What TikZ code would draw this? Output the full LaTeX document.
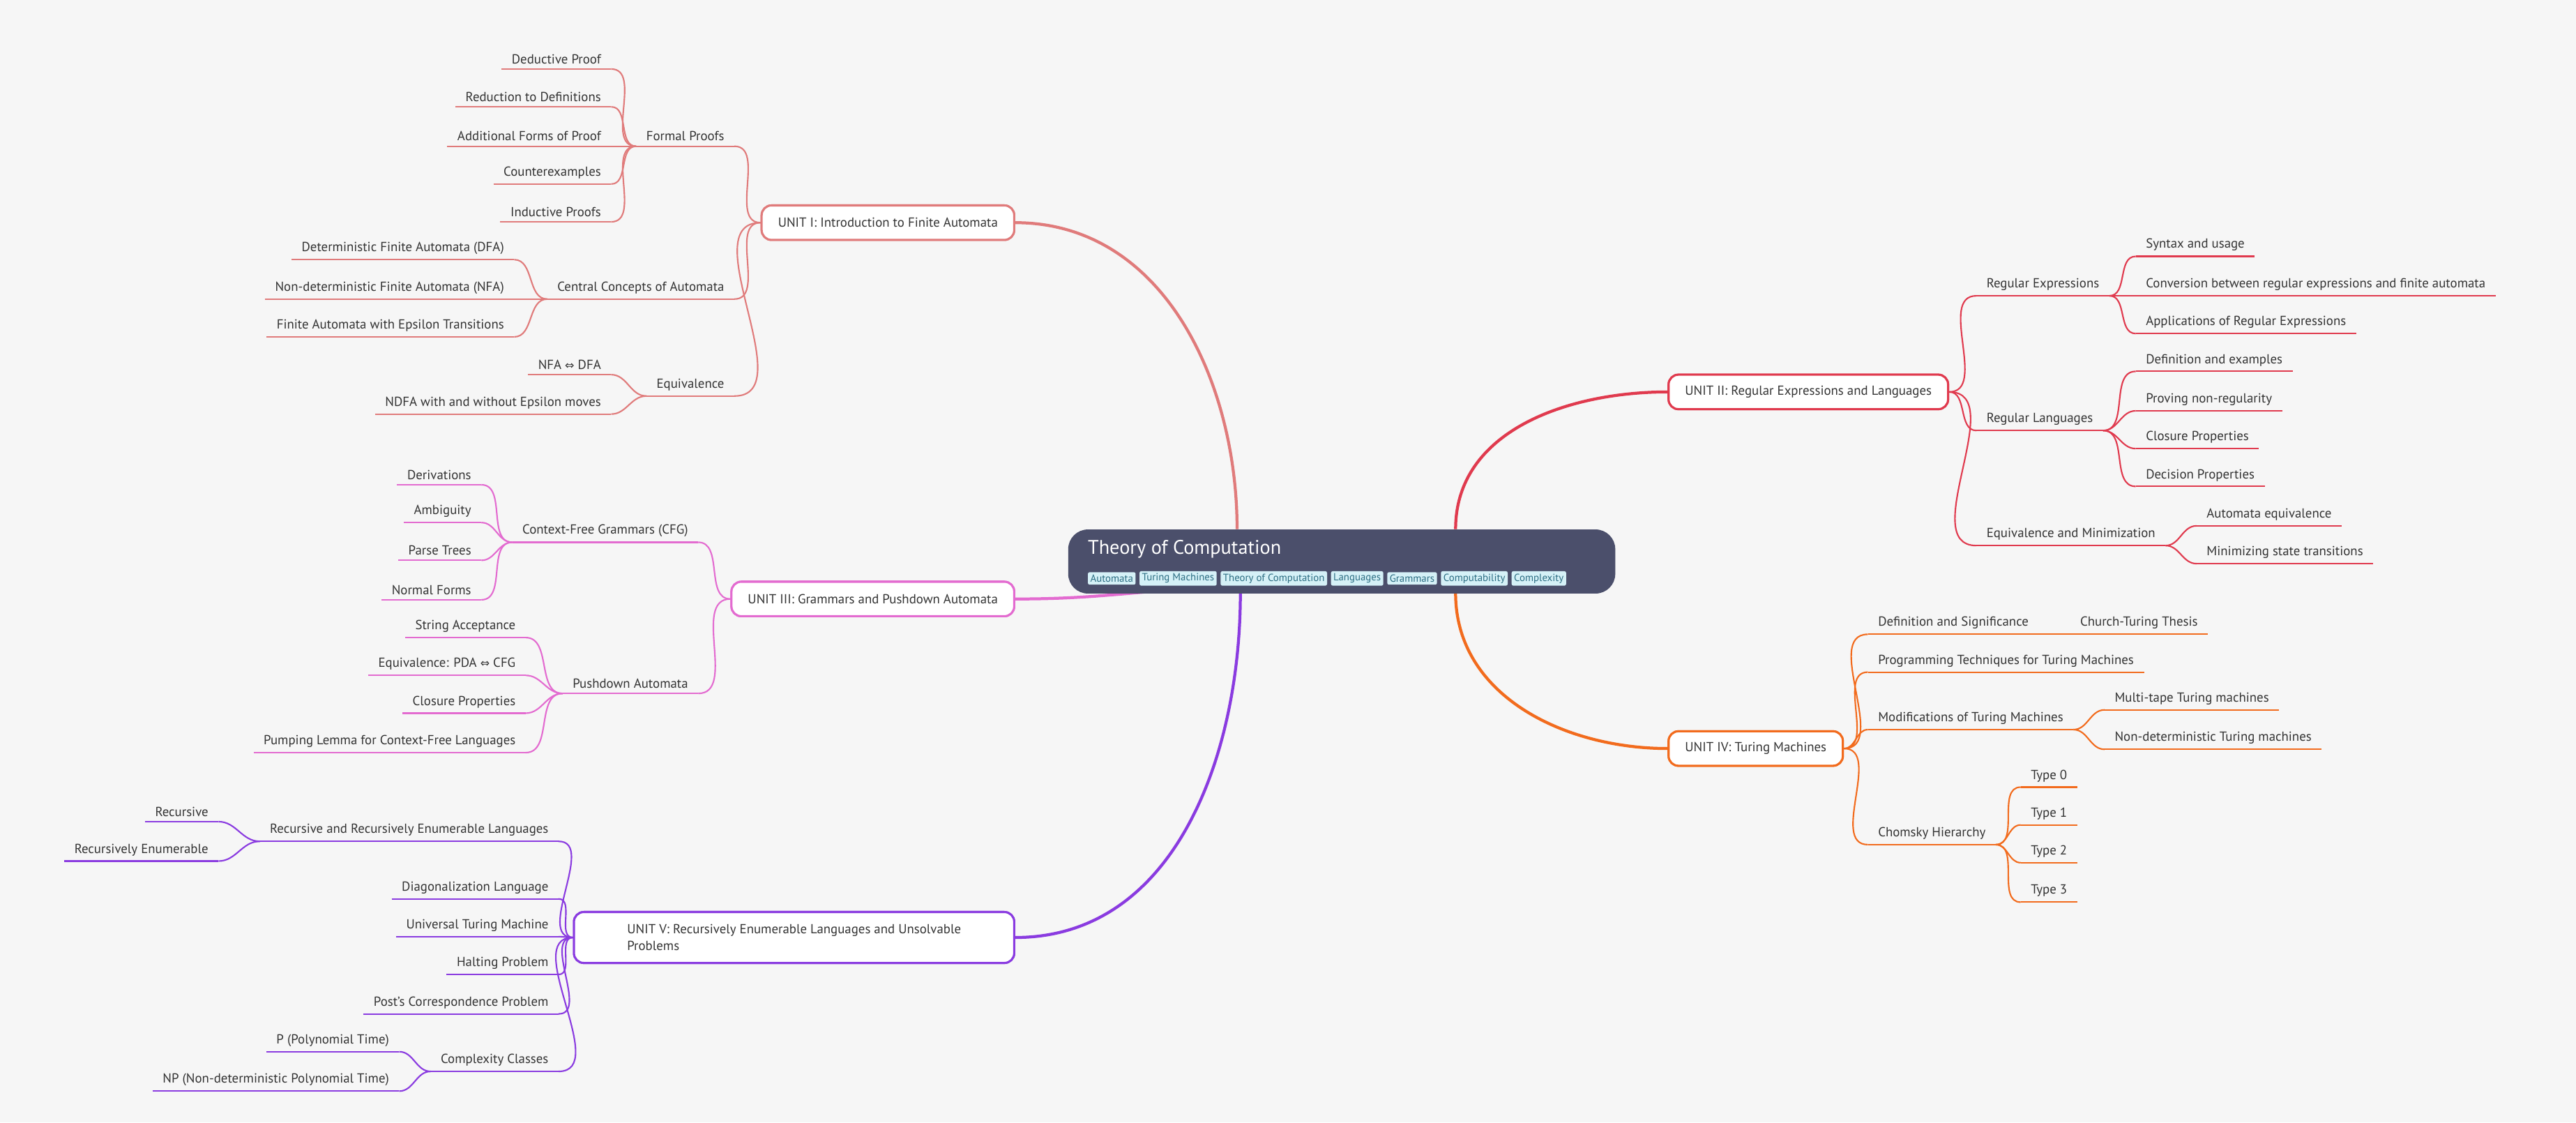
\documentclass[tikz,border=0pt]{standalone}
\usepackage{fontspec}
\setmainfont{PT Sans}
\newfontfamily\symf{DejaVu Sans}
\newcommand\eqarrow{{\symf\scalebox{0.85}{⇔}}}
\definecolor{bg}{HTML}{F6F6F6}
\definecolor{cA}{HTML}{E07B7B}
\definecolor{cB}{HTML}{E03A4E}
\definecolor{cC}{HTML}{E36BD0}
\definecolor{cD}{HTML}{F26B1D}
\definecolor{cE}{HTML}{8A3BE0}
\definecolor{ctr}{HTML}{4B4F6B}
\definecolor{tagf}{HTML}{D5F1F7}
\definecolor{tagt}{HTML}{2B6D82}
\definecolor{txt}{HTML}{333333}
\tikzset{
 lab/.style={font=\fontsize{8}{9.6}\selectfont, text=txt, inner xsep=6pt, inner ysep=3pt},
 unitbox/.style={draw, rounded corners=6pt, fill=white, line width=1.3pt, font=\fontsize{8}{10}\selectfont, text=txt, inner xsep=10pt, minimum height=21pt, align=left},
 tagbox/.style={fill=tagf, rounded corners=1pt, font=\fontsize{6.3}{7}\selectfont, text=tagt, inner xsep=1.5pt, inner ysep=1.5pt, anchor=west},
 lk/.style={line width=0.9pt},
 big/.style={line width=1.8pt}
}
% #1 side (east/west) #2 name #3 x #4 y #5 text #6 color
\newcommand\lf[6]{\node[lab,anchor=south #1] (#2) at (#3,#4) {#5};
 \draw[lk,#6] (#2.south west) -- (#2.south east);}
\begin{document}
\begin{tikzpicture}[x=1pt,y=-1pt]
\fill[bg] (0,0) rectangle (1568,683);
\useasboundingbox (0,0) rectangle (1568,683);
% units first (connectors drawn later, boxes redrawn on top)
\coordinate (cA0) at (753,322);
\coordinate (cC0) at (700,360);
\coordinate (cE0) at (755,361);
\coordinate (cB0) at (886,322);
\coordinate (cD0) at (886,361);
\node[unitbox, draw=cA, anchor=east] (u1) at (618,135.5) {UNIT I: Introduction to Finite Automata};
\node[unitbox, draw=cB, anchor=west] (u2) at (1015,238.5) {UNIT II: Regular Expressions and Languages};
\node[unitbox, draw=cC, anchor=east] (u3) at (618,364.5) {UNIT III: Grammars and Pushdown Automata};
\node[unitbox, draw=cD, anchor=west] (u4) at (1015,455.5) {UNIT IV: Turing Machines};
\node[unitbox, draw=cE, anchor=east, minimum width=268pt, minimum height=31pt] (u5) at (618,570.5) {UNIT V: Recursively Enumerable Languages and Unsolvable\\Problems};
\draw[big,cA] (cA0) to[out=90,in=0] (u1.east);
\draw[big,cC] (cC0) to[out=185,in=0] (u3.east);
\draw[big,cE] (cE0) to[out=-90,in=0] (u5.east);
\draw[big,cB] (cB0) to[out=90,in=180] (u2.west);
\draw[big,cD] (cD0) to[out=-90,in=180] (u4.west);
% center
\node[fill=ctr, rounded corners=12pt, minimum width=333pt, minimum height=39pt, anchor=north west, inner sep=0] (ctr) at (650,322) {};
\node[anchor=west, text=white, font=\fontsize{12}{14}\selectfont, inner sep=0] (title) at (662,334) {Theory of Computation};
\node[tagbox] (t1) at (662,352) {Automata};
\node[tagbox] (t2) at ([xshift=2pt]t1.east) {Turing Machines};
\node[tagbox] (t3) at ([xshift=2pt]t2.east) {Theory of Computation};
\node[tagbox] (t4) at ([xshift=2pt]t3.east) {Languages};
\node[tagbox] (t5) at ([xshift=2pt]t4.east) {Grammars};
\node[tagbox] (t6) at ([xshift=2pt]t5.east) {Computability};
\node[tagbox] (t7) at ([xshift=2pt]t6.east) {Complexity};
% ---- Unit I
\lf{east}{fp}{447}{89}{Formal Proofs}{cA}
\lf{east}{cc}{447}{182}{Central Concepts of Automata}{cA}
\lf{east}{eq}{447}{241}{Equivalence}{cA}
\foreach \n in {fp,cc,eq}{\draw[lk,cA] (\n.south east) to[out=0,in=180] (u1.west);}
\lf{east}{a1}{372}{42}{Deductive Proof}{cA}
\lf{east}{a2}{372}{65}{Reduction to Definitions}{cA}
\lf{east}{a3}{372}{89}{Additional Forms of Proof}{cA}
\lf{east}{a4}{372}{112}{Counterexamples}{cA}
\lf{east}{a5}{372}{135}{Inductive Proofs}{cA}
\foreach \n in {a1,a2,a3,a4,a5}{\draw[lk,cA] (\n.south east) to[out=0,in=180] (fp.south west);}
\lf{east}{b1}{313}{158}{Deterministic Finite Automata (DFA)}{cA}
\lf{east}{b2}{313}{182}{Non-deterministic Finite Automata (NFA)}{cA}
\lf{east}{b3}{313}{205}{Finite Automata with Epsilon Transitions}{cA}
\foreach \n in {b1,b2,b3}{\draw[lk,cA] (\n.south east) to[out=0,in=180] (cc.south west);}
\lf{east}{e1}{372}{228}{NFA \eqarrow{} DFA}{cA}
\lf{east}{e2}{372}{252}{NDFA with and without Epsilon moves}{cA}
\foreach \n in {e1,e2}{\draw[lk,cA] (\n.south east) to[out=0,in=180] (eq.south west);}
% ---- Unit III
\lf{east}{cfg}{425}{330}{Context-Free Grammars (CFG)}{cC}
\lf{east}{pda}{425}{422}{Pushdown Automata}{cC}
\foreach \n in {cfg,pda}{\draw[lk,cC] (\n.south east) to[out=0,in=180] (u3.west);}
\lf{east}{g1}{293}{295}{Derivations}{cC}
\lf{east}{g2}{293}{318}{Ambiguity}{cC}
\lf{east}{g3}{293}{341}{Parse Trees}{cC}
\lf{east}{g4}{293}{365}{Normal Forms}{cC}
\foreach \n in {g1,g2,g3,g4}{\draw[lk,cC] (\n.south east) to[out=0,in=180] (cfg.south west);}
\lf{east}{p1}{320}{388}{String Acceptance}{cC}
\lf{east}{p2}{320}{411}{Equivalence: PDA \eqarrow{} CFG}{cC}
\lf{east}{p3}{320}{434}{Closure Properties}{cC}
\lf{east}{p4}{320}{458}{Pumping Lemma for Context-Free Languages}{cC}
\foreach \n in {p1,p2,p3,p4}{\draw[lk,cC] (\n.south east) to[out=0,in=180] (pda.south west);}
% ---- Unit V
\lf{east}{rr}{340}{512}{Recursive and Recursively Enumerable Languages}{cE}
\lf{east}{dl}{340}{547}{Diagonalization Language}{cE}
\lf{east}{ut}{340}{570}{Universal Turing Machine}{cE}
\lf{east}{hp}{340}{593}{Halting Problem}{cE}
\lf{east}{pc}{340}{617}{Post's Correspondence Problem}{cE}
\lf{east}{cx}{340}{652}{Complexity Classes}{cE}
\foreach \n in {rr,dl,ut,hp,pc,cx}{\draw[lk,cE] (\n.south east) to[out=0,in=180] (u5.west);}
\lf{east}{r1}{133}{500}{Recursive}{cE}
\lf{east}{r2}{133}{524}{Recursively Enumerable}{cE}
\foreach \n in {r1,r2}{\draw[lk,cE] (\n.south east) to[out=0,in=180] (rr.south west);}
\lf{east}{x1}{243}{640}{P (Polynomial Time)}{cE}
\lf{east}{x2}{243}{664}{NP (Non-deterministic Polynomial Time)}{cE}
\foreach \n in {x1,x2}{\draw[lk,cE] (\n.south east) to[out=0,in=180] (cx.south west);}
% ---- Unit II
\lf{west}{re}{1203}{180}{Regular Expressions}{cB}
\lf{west}{rl}{1203}{262}{Regular Languages}{cB}
\lf{west}{em}{1203}{332}{Equivalence and Minimization}{cB}
\foreach \n in {re,rl,em}{\draw[lk,cB] (u2.east) to[out=0,in=180] (\n.south west);}
\lf{west}{s1}{1300}{156}{Syntax and usage}{cB}
\lf{west}{s2}{1300}{180}{Conversion between regular expressions and finite automata}{cB}
\lf{west}{s3}{1300}{203}{Applications of Regular Expressions}{cB}
\foreach \n in {s1,s2,s3}{\draw[lk,cB] (re.south east) to[out=0,in=180] (\n.south west);}
\lf{west}{l1}{1300}{226}{Definition and examples}{cB}
\lf{west}{l2}{1300}{250}{Proving non-regularity}{cB}
\lf{west}{l3}{1300}{273}{Closure Properties}{cB}
\lf{west}{l4}{1300}{296}{Decision Properties}{cB}
\foreach \n in {l1,l2,l3,l4}{\draw[lk,cB] (rl.south east) to[out=0,in=180] (\n.south west);}
\lf{west}{m1}{1337}{320}{Automata equivalence}{cB}
\lf{west}{m2}{1337}{343}{Minimizing state transitions}{cB}
\foreach \n in {m1,m2}{\draw[lk,cB] (em.south east) to[out=0,in=180] (\n.south west);}
% ---- Unit IV
\lf{west}{ds}{1137}{386}{Definition and Significance}{cD}
\lf{west}{pt}{1137}{409}{Programming Techniques for Turing Machines}{cD}
\lf{west}{mt}{1137}{444}{Modifications of Turing Machines}{cD}
\lf{west}{ch}{1137}{514}{Chomsky Hierarchy}{cD}
\foreach \n in {ds,pt,mt,ch}{\draw[lk,cD] (u4.east) to[out=0,in=180] (\n.south west);}
\lf{west}{ct}{1260}{386}{Church-Turing Thesis}{cD}
\draw[lk,cD] (ds.south east) -- (ct.south west);
\lf{west}{k1}{1281}{432}{Multi-tape Turing machines}{cD}
\lf{west}{k2}{1281}{456}{Non-deterministic Turing machines}{cD}
\foreach \n in {k1,k2}{\draw[lk,cD] (mt.south east) to[out=0,in=180] (\n.south west);}
\lf{west}{y0}{1230}{479}{Type 0}{cD}
\lf{west}{y1}{1230}{502}{Type 1}{cD}
\lf{west}{y2}{1230}{525}{Type 2}{cD}
\lf{west}{y3}{1230}{549}{Type 3}{cD}
\foreach \n in {y0,y1,y2,y3}{\draw[lk,cD] (ch.south east) to[out=0,in=180] (\n.south west);}
% redraw unit boxes on top of connectors
\node[unitbox, draw=cA, anchor=east] at (618,135.5) {UNIT I: Introduction to Finite Automata};
\node[unitbox, draw=cB, anchor=west] at (1015,238.5) {UNIT II: Regular Expressions and Languages};
\node[unitbox, draw=cC, anchor=east] at (618,364.5) {UNIT III: Grammars and Pushdown Automata};
\node[unitbox, draw=cD, anchor=west] at (1015,455.5) {UNIT IV: Turing Machines};
\node[unitbox, draw=cE, anchor=east, minimum width=268pt, minimum height=31pt] at (618,570.5) {UNIT V: Recursively Enumerable Languages and Unsolvable\\Problems};
\end{tikzpicture}
\end{document}
